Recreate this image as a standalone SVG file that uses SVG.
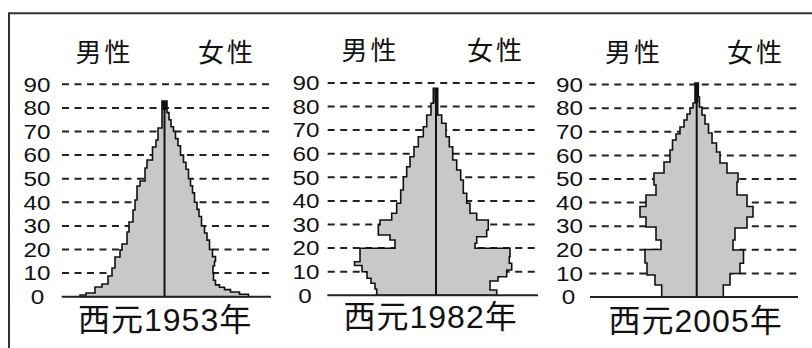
<svg xmlns="http://www.w3.org/2000/svg" width="812" height="348" viewBox="0 0 812 348">
<style>
.dash{stroke:#222;stroke-width:2;stroke-dasharray:7 5.5;fill:none}
.base{stroke:#222;stroke-width:2;fill:none}
.pyr{fill:#c8c8c8;stroke:#111;stroke-width:1.6;stroke-linejoin:miter}
.axis{stroke:#111;stroke-width:2;fill:none}
.peak{fill:#111}
.num{font-family:"Liberation Sans",Arial,sans-serif;font-size:20.5px;fill:#111;text-anchor:middle}
.sex{font-family:"Noto Sans CJK JP",sans-serif;font-size:26px;letter-spacing:3px;fill:#111}
.title{font-family:"Liberation Sans","Noto Sans CJK JP",sans-serif;font-size:32px;letter-spacing:1px;fill:#111}
.frame{stroke:#333;stroke-width:2;fill:none}
</style>
<rect width="812" height="348" fill="#fff"/>
<path class="frame" d="M9,348V13.3H812"/>

<g id="pyramid-1953">
  <path class="dash" d="M62,84.3H271M62,107.9H271M62,131.5H271M62,155.1H271M62,178.7H271M62,202.3H271M62,225.9H271M62,249.5H271M62,273.1H271"/>
  <path class="pyr" d="M164.5,101 H162 V128 H158 V140 H156 V147 H152.5 V160 H147 V168 H145 V181 H140 V186 H137 V200 H135 V210 H133 V222 H129 V232 H127 V244 H122 V250 H120 V257 H115 V268 H112 V276 H108 V284 H102 V287 H95 V293 H86 V295 H80 V296.7 H248.5 V294.3 H239.5 V292 H230.5 V289.6 H224.5 V287.3 H219.5 V284.9 H215.5 V280.2 H213.5 V273.1 H213 V266 H214.5 V261.3 H215.5 V256.6 H212.5 V249.5 H209.5 V240.1 H207 V233 H204.5 V225.9 H201.5 V216.5 H199 V209.4 H197 V202.3 H194.5 V192.9 H192.5 V185.8 H190.5 V178.7 H188.5 V169.3 H186 V162.2 H183.5 V155.1 H180.5 V145.7 H178 V138.6 H175.5 V131.5 H173.5 V126.8 H171 V119.7 H169 V112.6 H167 V101 Z"/>
  <rect class="peak" x="162" y="101" width="5" height="9"/>
  <path class="axis" d="M164.5,101V296.7"/>
  <path class="base" d="M61.7,296.7H271"/>
  <text class="num" x="37" y="91.5" textLength="27" lengthAdjust="spacingAndGlyphs">90</text>
  <text class="num" x="37" y="115.1" textLength="27" lengthAdjust="spacingAndGlyphs">80</text>
  <text class="num" x="37" y="138.7" textLength="27" lengthAdjust="spacingAndGlyphs">70</text>
  <text class="num" x="37" y="162.3" textLength="27" lengthAdjust="spacingAndGlyphs">60</text>
  <text class="num" x="37" y="185.9" textLength="27" lengthAdjust="spacingAndGlyphs">50</text>
  <text class="num" x="37" y="209.5" textLength="27" lengthAdjust="spacingAndGlyphs">40</text>
  <text class="num" x="37" y="233.1" textLength="27" lengthAdjust="spacingAndGlyphs">30</text>
  <text class="num" x="37" y="256.7" textLength="27" lengthAdjust="spacingAndGlyphs">20</text>
  <text class="num" x="37" y="280.3" textLength="27" lengthAdjust="spacingAndGlyphs">10</text>
  <text class="num" x="37.5" y="303.9" textLength="13.5" lengthAdjust="spacingAndGlyphs">0</text>
  <text class="sex" x="75.5" y="61.5">男性</text>
  <text class="sex" x="198" y="61.5">女性</text>
  <text class="title" x="78" y="331">西元1953年</text>
</g>

<g id="pyramid-1982">
  <path class="dash" d="M327.7,82.9H538M327.7,106.5H538M327.7,130.1H538M327.7,153.7H538M327.7,177.3H538M327.7,200.9H538M327.7,224.5H538M327.7,248.1H538M327.7,271.7H538"/>
  <path class="pyr" d="M436,88.3 H433.3 V103.3 H431 V115 H426.7 V126.7 H423.3 V136.7 H418.3 V146.7 H414 V156.7 H410 V166.7 H406.7 V176.7 H403.3 V190 H400.7 V203.3 H396.7 V213.3 H391.7 V220 H380 V225 H378.3 V235 H390 V240 H395 V248.3 H360 V261.7 H354.5 V265.5 H362 V271.7 H367 V278.3 H371 V283.3 H375 V289 H376.7 V295.3 H496.7 V290 H490 V281 H498 V276.7 H506.7 V270 H511.7 V263.3 H509.3 V256.7 H510 V248.3 H475 V243.3 H476.7 V236.7 H486.7 V230 H488.3 V220 H476.7 V213.3 H470 V203.3 H466.7 V193.3 H463.3 V180 H460.7 V170 H456.7 V160 H452.7 V146.7 H449.3 V136.7 H446 V123.3 H441.7 V115 H437.7 V88.3 Z"/>
  <rect class="peak" x="434.3" y="88.3" width="3.6" height="15"/>
  <path class="axis" d="M436,88.3V295.3"/>
  <path class="base" d="M327.3,295.3H538"/>
  <text class="num" x="306" y="90.1" textLength="27" lengthAdjust="spacingAndGlyphs">90</text>
  <text class="num" x="306" y="113.7" textLength="27" lengthAdjust="spacingAndGlyphs">80</text>
  <text class="num" x="306" y="137.3" textLength="27" lengthAdjust="spacingAndGlyphs">70</text>
  <text class="num" x="306" y="160.9" textLength="27" lengthAdjust="spacingAndGlyphs">60</text>
  <text class="num" x="306" y="184.5" textLength="27" lengthAdjust="spacingAndGlyphs">50</text>
  <text class="num" x="306" y="208.1" textLength="27" lengthAdjust="spacingAndGlyphs">40</text>
  <text class="num" x="306" y="231.7" textLength="27" lengthAdjust="spacingAndGlyphs">30</text>
  <text class="num" x="306" y="255.3" textLength="27" lengthAdjust="spacingAndGlyphs">20</text>
  <text class="num" x="306" y="278.9" textLength="27" lengthAdjust="spacingAndGlyphs">10</text>
  <text class="num" x="305" y="302.5" textLength="13.5" lengthAdjust="spacingAndGlyphs">0</text>
  <text class="sex" x="341.5" y="60">男性</text>
  <text class="sex" x="467" y="60">女性</text>
  <text class="title" x="343.5" y="328">西元1982年</text>
</g>

<g id="pyramid-2005">
  <path class="dash" d="M589.3,84.6H798M589.3,108.2H798M589.3,131.8H798M589.3,155.4H798M589.3,179H798M589.3,202.6H798M589.3,226.2H798M589.3,249.8H798M589.3,273.4H798"/>
  <path class="pyr" d="M696.7,83 H695 V103 H693 V108 H690 V114 H687 V120 H684 V127 H680 V134 H676 V140 H672.5 V150 H670 V162 H664 V173 H654 V185 H656 V195 H646 V206.5 H640 V217 H646 V227 H656 V240 H661 V249.5 H645 V263 H647 V275 H655 V285 H661.7 V297 H723.3 V285 H730 V273.5 H740 V263.3 H743.5 V250 H733 V240 H735 V228 H747 V217 H753 V206.5 H747 V195 H737 V182 H738 V173 H727 V163 H720 V152 H716.5 V143 H712 V133 H708.5 V124 H705 V115 H702 V107 H699.5 V97 H698.3 V83 Z"/>
  <rect class="peak" x="695" y="83" width="3.4" height="20"/>
  <path class="axis" d="M696.7,83V297"/>
  <path class="base" d="M590,297H798"/>
  <text class="num" x="569.5" y="91.8" textLength="27" lengthAdjust="spacingAndGlyphs">90</text>
  <text class="num" x="569.5" y="115.4" textLength="27" lengthAdjust="spacingAndGlyphs">80</text>
  <text class="num" x="569.5" y="139" textLength="27" lengthAdjust="spacingAndGlyphs">70</text>
  <text class="num" x="569.5" y="162.6" textLength="27" lengthAdjust="spacingAndGlyphs">60</text>
  <text class="num" x="569.5" y="186.2" textLength="27" lengthAdjust="spacingAndGlyphs">50</text>
  <text class="num" x="569.5" y="209.8" textLength="27" lengthAdjust="spacingAndGlyphs">40</text>
  <text class="num" x="569.5" y="233.4" textLength="27" lengthAdjust="spacingAndGlyphs">30</text>
  <text class="num" x="569.5" y="257" textLength="27" lengthAdjust="spacingAndGlyphs">20</text>
  <text class="num" x="569.5" y="280.6" textLength="27" lengthAdjust="spacingAndGlyphs">10</text>
  <text class="num" x="568.5" y="304.2" textLength="13.5" lengthAdjust="spacingAndGlyphs">0</text>
  <text class="sex" x="605" y="61.5">男性</text>
  <text class="sex" x="727" y="61.5">女性</text>
  <text class="title" x="608.5" y="331.5">西元2005年</text>
</g>
</svg>
